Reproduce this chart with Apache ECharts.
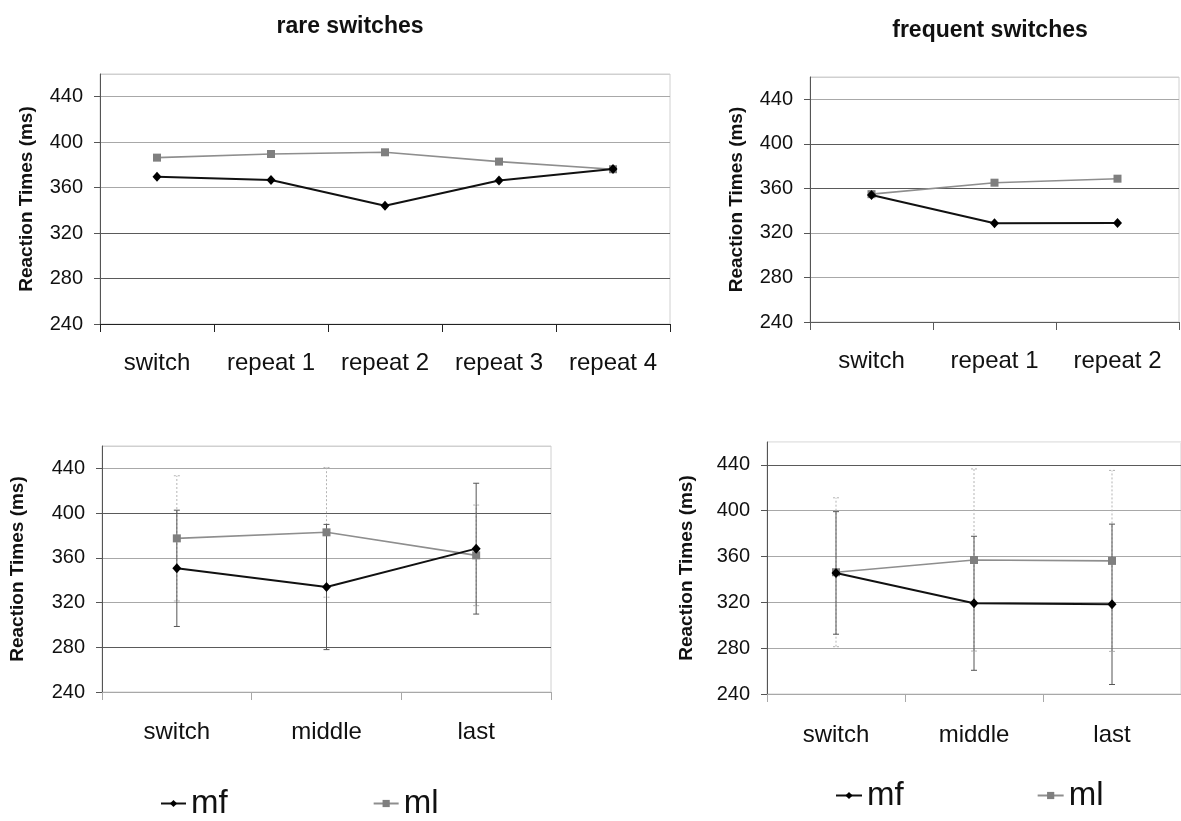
<!DOCTYPE html>
<html>
<head>
<meta charset="utf-8">
<title>Reaction Times: rare vs frequent switches</title>
<script src="https://cdn.jsdelivr.net/npm/echarts@6/dist/echarts.min.js"></script>
<style>
  html, body { margin: 0; padding: 0; background: #fff; }
  #chart { width: 1181px; height: 821px; }
</style>
</head>
<body>
<div id="chart"></div>
<script>
// top row: mean RT per position in the run
const rareCats = ['switch', 'repeat 1', 'repeat 2', 'repeat 3', 'repeat 4']
const rareMf = [369.5, 366.8, 344, 366.3, 376.5]
const rareMl = [386.4, 389.6, 391.1, 382.9, 376.2]

const freqCats = ['switch', 'repeat 1', 'repeat 2']
const freqMf = [354, 328.7, 329]
const freqMl = [354.8, 365.1, 368.7]

// bottom row: switch / middle / last, with error bars (half widths)
const posCats = ['switch', 'middle', 'last']
const rarePosMf = [350.6, 333.9, 368.2]
const rarePosMl = [377.4, 382.8, 362.2]
const rarePosMfErr = [52, 56, 58.5]
const rarePosMlErr = [56, 58, 45]

const freqPosMf = [345.7, 319.2, 318.3]
const freqPosMl = [346.3, 357, 356.2]
const freqPosMfErr = [53.5, 58.5, 70]
const freqPosMlErr = [65, 79.5, 79]

// y scale shared by all four panels
const yMin = 240
const yMax = 460
const yStep = 40

const FONT = 'Liberation Sans, Arial, sans-serif'
const DARK = '#5a5a5a'
const GRAY = '#a8a8a8'
const LIGHT = '#d0d0d0'

const chart = echarts.init(document.getElementById('chart'), null, { renderer: 'canvas' })

// gridline colours from 240 upward (the scan is uneven)
const panels = [
  { left: 100, top: 74, width: 570, height: 250, cats: rareCats, nameGap: 64, axisColor: '#222',
    lines: ['#222', DARK, DARK, GRAY, GRAY, GRAY, LIGHT], labelMargin: 27 },
  { left: 810, top: 77, width: 369, height: 245, cats: freqCats, nameGap: 64, axisColor: DARK,
    lines: [DARK, GRAY, GRAY, DARK, DARK, GRAY, LIGHT], labelMargin: 27 },
  { left: 102, top: 446, width: 449, height: 246, cats: posCats, nameGap: 75, axisColor: GRAY,
    lines: [GRAY, DARK, GRAY, GRAY, DARK, GRAY, LIGHT], labelMargin: 28 },
  { left: 767, top: 442, width: 417, height: 252, cats: posCats, nameGap: 71, axisColor: GRAY,
    lines: [GRAY, GRAY, GRAY, GRAY, GRAY, DARK, '#eeeeee'], labelMargin: 29 }
]

const grid = panels.map(p => ({
  left: p.left, top: p.top, width: p.width, height: p.height,
  show: true, borderColor: LIGHT, borderWidth: 1, backgroundColor: 'transparent'
}))

const xAxis = panels.map((p, i) => ({
  type: 'category',
  gridIndex: i,
  data: p.cats,
  boundaryGap: true,
  axisLine: { lineStyle: { color: p.axisColor, width: 1 } },
  axisTick: { show: true, length: 8, alignWithLabel: false, lineStyle: { color: p.axisColor } },
  axisLabel: { color: '#111', fontFamily: FONT, fontSize: 24, margin: p.labelMargin, interval: 0 },
  splitLine: { show: false }
}))

const yAxis = panels.map((p, i) => ({
  type: 'value',
  gridIndex: i,
  min: yMin,
  max: yMax,
  interval: yStep,
  name: 'Reaction Times (ms)',
  nameLocation: 'middle',
  nameRotate: 90,
  nameGap: p.nameGap,
  nameTextStyle: { color: '#111', fontFamily: FONT, fontSize: 19, fontWeight: 'bold' },
  axisLine: { show: true, lineStyle: { color: '#555', width: 1 } },
  axisTick: { show: true, length: 6, lineStyle: { color: '#555' } },
  axisLabel: { color: '#111', fontFamily: FONT, fontSize: 20, margin: 17, showMaxLabel: false },
  splitLine: { show: true, lineStyle: { color: p.lines, width: 1.2 } }
}))

function lineSeries(name, data, idx) {
  const isMf = name === 'mf'
  return {
    name: name,
    type: 'line',
    xAxisIndex: idx,
    yAxisIndex: idx,
    data: data,
    symbol: isMf ? 'diamond' : 'rect',
    symbolSize: isMf ? [9, 10] : 8,
    showSymbol: true,
    itemStyle: { color: isMf ? '#000' : '#7f7f7f' },
    lineStyle: { color: isMf ? '#111' : '#8e8e8e', width: isMf ? 2 : 1.6 },
    z: isMf ? 4 : 3,
    animation: false
  }
}

function errSeries(name, means, errs, idx) {
  const isMf = name === 'mf'
  return {
    name: name + ' error',
    type: 'custom',
    xAxisIndex: idx,
    yAxisIndex: idx,
    z: isMf ? 2 : 1,
    silent: true,
    data: means.map((m, k) => [k, m - errs[k], m + errs[k]]),
    encode: { x: 0, y: [1, 2] },
    renderItem: function (params, api) {
      const lo = api.coord([api.value(0), api.value(1)])
      const hi = api.coord([api.value(0), api.value(2)])
      const style = {
        stroke: isMf ? '#555' : '#b4b4b4',
        lineWidth: 1,
        lineDash: isMf ? null : [2, 2]
      }
      const cap = 3
      return {
        type: 'group',
        children: [
          { type: 'line', shape: { x1: lo[0], y1: lo[1], x2: hi[0], y2: hi[1] }, style: style },
          { type: 'line', shape: { x1: lo[0] - cap, y1: lo[1], x2: lo[0] + cap, y2: lo[1] }, style: style },
          { type: 'line', shape: { x1: hi[0] - cap, y1: hi[1], x2: hi[0] + cap, y2: hi[1] }, style: style }
        ]
      }
    },
    animation: false
  }
}

const series = [
  lineSeries('mf', rareMf, 0),
  lineSeries('ml', rareMl, 0),
  lineSeries('mf', freqMf, 1),
  lineSeries('ml', freqMl, 1),
  lineSeries('mf', rarePosMf, 2),
  lineSeries('ml', rarePosMl, 2),
  lineSeries('mf', freqPosMf, 3),
  lineSeries('ml', freqPosMl, 3),
  errSeries('ml', rarePosMl, rarePosMlErr, 2),
  errSeries('mf', rarePosMf, rarePosMfErr, 2),
  errSeries('ml', freqPosMl, freqPosMlErr, 3),
  errSeries('mf', freqPosMf, freqPosMfErr, 3)
]

const legendText = { color: '#111', fontFamily: FONT, fontSize: 33 }

const option = {
  animation: false,
  backgroundColor: '#fff',
  title: [
    { text: 'rare switches', left: 345, top: 10, textAlign: 'center',
      textStyle: { fontFamily: FONT, fontSize: 23, fontWeight: 'bold', color: '#111' } },
    { text: 'frequent switches', left: 985, top: 14, textAlign: 'center',
      textStyle: { fontFamily: FONT, fontSize: 23, fontWeight: 'bold', color: '#111' } }
  ],
  legend: [
    { data: ['mf', 'ml'], left: 160, top: 787, padding: 0, itemWidth: 25, itemHeight: 9,
      itemGap: 145, textStyle: legendText, selectedMode: false },
    { data: ['mf', 'ml'], left: 835, top: 779, padding: 0, itemWidth: 26, itemHeight: 9,
      itemGap: 133, textStyle: legendText, selectedMode: false }
  ],
  grid: grid,
  xAxis: xAxis,
  yAxis: yAxis,
  series: series
}

chart.setOption(option)
</script>
</body>
</html>
